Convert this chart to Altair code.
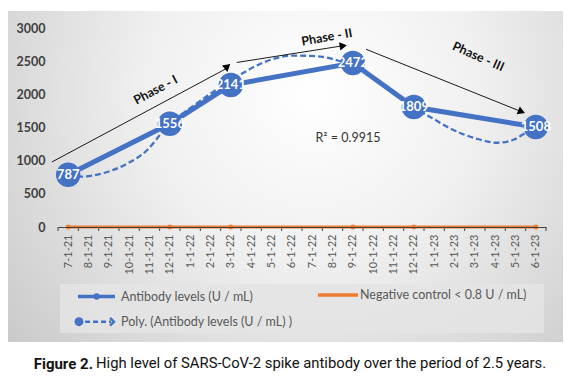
import altair as alt
import pandas as pd

# ---------------- data ----------------
MONTHS = ["7-1-21", "8-1-21", "9-1-21", "10-1-21", "11-1-21", "12-1-21",
          "1-1-22", "2-1-22", "3-1-22", "4-1-22", "5-1-22", "6-1-22",
          "7-1-22", "8-1-22", "9-1-22", "10-1-22", "11-1-22", "12-1-22",
          "1-1-23", "2-1-23", "3-1-23", "4-1-23", "5-1-23", "6-1-23"]
SAMPLE_IDX = [0, 5, 8, 14, 17, 23]
ANTIBODY = [787, 1556, 2141, 2472, 1809, 1508]
NEG_CONTROL = [0.5, 0.5, 0.5, 0.5, 0.5, 0.5]

# polynomial trend line
TREND_M = [0, 0.75, 1.5, 2.8, 3.9, 4.6, 5.0, 6.0, 7.0, 8.0, 8.6, 9.6, 11.1,
           12.4, 13.2, 14.0, 15.0, 16.0, 17.0, 17.8, 18.9, 20.1, 21.1, 21.9,
           22.6, 23.0]
TREND_V = [775, 760, 795, 940, 1165, 1420, 1560, 1790, 2010, 2200, 2320, 2480,
           2585, 2570, 2515, 2440, 2260, 2030, 1800, 1660, 1470, 1330, 1270,
           1315, 1440, 1510]

# phase annotations (data coordinates)
PHASE_LABELS = ["Phase - I", "Phase - II", "Phase - III"]
PHASE_TEXT_M = [4.3, 12.72, 20.17]
PHASE_TEXT_V = [2065, 2860, 2567]
ARROW_M1 = [-0.8, 8.29, 14.65]
ARROW_V1 = [980, 2480, 2679]
ARROW_M2 = [7.8, 13.53, 22.3]
ARROW_V2 = [2392, 2733, 1738]
R2_TEXT = "R² = 0.9915"
R2_M, R2_V = 13.76, 1342

Y_TICKS = [0, 500, 1000, 1500, 2000, 2500, 3000]

# styles
TEXT_ANGLES = [332, 350, 24]
ARROW_ANGLES = [80, 351, 22]
BLUE = "#4472C4"
ORANGE = "#ED7D31"
FONT = "Lato"
W, H = 488, 199

# ---------------- tables ----------------
ab = pd.DataFrame({"m": SAMPLE_IDX, "v": ANTIBODY, "lab": [str(a) for a in ANTIBODY]})
neg = pd.DataFrame({"m": SAMPLE_IDX, "v": NEG_CONTROL})
trend = pd.DataFrame({"m": TREND_M, "v": TREND_V})
arrows = pd.DataFrame({"m": ARROW_M1, "v": ARROW_V1, "m2": ARROW_M2, "v2": ARROW_V2})
heads = pd.DataFrame({"m": ARROW_M2, "v": ARROW_V2, "ang": ARROW_ANGLES})
phases = pd.DataFrame({"m": PHASE_TEXT_M, "v": PHASE_TEXT_V, "t": PHASE_LABELS, "ang": TEXT_ANGLES})
r2 = pd.DataFrame({"m": [R2_M], "v": [R2_V], "t": [R2_TEXT]})
ticks = pd.DataFrame({"m": [i - 0.5 for i in range(len(MONTHS) + 1)]})
one = pd.DataFrame({"a": [0]})

label_expr = "[" + ",".join("'%s'" % s for s in MONTHS) + "][datum.value]"

X = alt.X("m:Q", scale=alt.Scale(domain=[-0.5, len(MONTHS) - 0.5], nice=False, zero=False),
          axis=alt.Axis(title=None, values=list(range(len(MONTHS))), labelExpr=label_expr,
                        labelAngle=270, labelAlign="right", labelBaseline="middle",
                        labelFont=FONT, labelFontSize=11, labelColor="#595959",
                        labelPadding=7, ticks=False, grid=False, domainColor="#404040",
                        domainWidth=1.2, labelOverlap=False, zindex=1))
Y = alt.Y("v:Q", scale=alt.Scale(domain=[0, 3000], nice=False, zero=True),
          axis=alt.Axis(title=None, values=Y_TICKS, format="d", labelFont=FONT,
                        labelFontSize=12.5, labelFontWeight="bold", labelColor="#404040",
                        labelPadding=13, ticks=False, domain=False, grid=False, zindex=1))

# ---------------- background ----------------
bg = alt.Chart(one).mark_rect(
    fill={"gradient": "radial", "x1": 0.55, "y1": 0.35, "r1": 0,
          "x2": 0.55, "y2": 0.35, "r2": 0.75,
          "stops": [{"offset": 0, "color": "#ffffff"},
                    {"offset": 0.4, "color": "#f0f0f0"},
                    {"offset": 1, "color": "#c6c6c6"}]}
).encode(x=alt.value(-50), x2=alt.value(505), y=alt.value(-17), y2=alt.value(314))

legend_box = alt.Chart(one).mark_rect(fill="#e4e4e4", opacity=0.85).encode(
    x=alt.value(2), x2=alt.value(486), y=alt.value(256), y2=alt.value(305))

# ---------------- data layers ----------------
tick_marks = alt.Chart(ticks).mark_rule(color="#404040", strokeWidth=1).encode(
    x=X, y=alt.value(H), y2=alt.value(H + 4))

neg_line = alt.Chart(neg).mark_line(color=ORANGE, strokeWidth=3).encode(x=X, y=Y)
neg_pts = alt.Chart(neg).mark_point(filled=True, color=ORANGE, size=25, opacity=1).encode(x=X, y=Y)

main_line = alt.Chart(ab).mark_line(color=BLUE, strokeWidth=5).encode(x=X, y=Y)
trend_line = alt.Chart(trend).mark_line(color=BLUE, strokeWidth=2.3, strokeDash=[6, 3],
                                         interpolate="monotone").encode(x=X, y=Y)
markers = alt.Chart(ab).mark_point(filled=True, color=BLUE, size=600, opacity=1).encode(x=X, y=Y)
labels = alt.Chart(ab).mark_text(color="white", font=FONT, fontSize=13, fontWeight="bold",
                                 align="center", baseline="middle").encode(x=X, y=Y, text="lab:N")

arrow_lines = alt.Chart(arrows).mark_rule(color="black", strokeWidth=0.9).encode(
    x=X, y=Y, x2="m2:Q", y2="v2:Q")
arrow_heads = alt.Chart(heads).mark_point(shape="triangle-right", filled=True, color="black",
                                          size=70, opacity=1).encode(
    x=X, y=Y, angle=alt.Angle("ang:Q", scale=None))
phase_text = alt.Chart(phases).mark_text(font=FONT, fontSize=12.5, fontWeight="bold",
                                         color="#111111", align="center",
                                         baseline="middle").encode(
    x=X, y=Y, text="t:N", angle=alt.Angle("ang:Q", scale=None))
r2_text = alt.Chart(r2).mark_text(font=FONT, fontSize=12.5, color="#333333", align="center",
                                  baseline="middle").encode(x=X, y=Y, text="t:N")

# ---------------- legend ----------------
LEG_FONT = dict(font=FONT, fontSize=12.5, color="#595959", align="left", baseline="middle")
leg1_line = alt.Chart(one).mark_rule(color=BLUE, strokeWidth=3.5).encode(
    x=alt.value(20), x2=alt.value(57), y=alt.value(268.5))
leg1_dot = alt.Chart(one).mark_point(filled=True, color=BLUE, size=40, opacity=1).encode(
    x=alt.value(38.7), y=alt.value(268.5))
leg1_txt = alt.Chart(one).mark_text(text="Antibody levels (U / mL)", **LEG_FONT).encode(
    x=alt.value(63), y=alt.value(268.5))
leg2_line = alt.Chart(one).mark_rule(color=ORANGE, strokeWidth=3.5).encode(
    x=alt.value(260), x2=alt.value(300), y=alt.value(267))
leg2_txt = alt.Chart(one).mark_text(text="Negative control < 0.8 U / mL)", **LEG_FONT).encode(
    x=alt.value(302), y=alt.value(267))
leg3_dot = alt.Chart(one).mark_point(filled=True, color=BLUE, size=80, opacity=1).encode(
    x=alt.value(21), y=alt.value(293.7))
leg3_line = alt.Chart(one).mark_rule(color=BLUE, strokeWidth=2.5, strokeDash=[5, 3]).encode(
    x=alt.value(27), x2=alt.value(53), y=alt.value(293.7))
leg3_head = alt.Chart(one).mark_point(shape="M-0.5,-1L0.5,0L-0.5,1", filled=False, color=BLUE,
                                      size=60, strokeWidth=2.5, opacity=1).encode(
    x=alt.value(54), y=alt.value(293.7))
leg3_txt = alt.Chart(one).mark_text(text="Poly. (Antibody levels (U / mL) )", **LEG_FONT).encode(
    x=alt.value(63), y=alt.value(293.7))

# ---------------- caption ----------------
CAP_FONT = "Roboto"
cap_bold = alt.Chart(one).mark_text(text="Figure 2.", font=CAP_FONT, fontSize=15,
                                    fontWeight="bold", color="#111111", align="right",
                                    baseline="middle").encode(x=alt.value(35), y=alt.value(336))
cap_rest = alt.Chart(one).mark_text(
    text="High level of SARS-CoV-2 spike antibody over the period of 2.5 years.",
    font=CAP_FONT, fontSize=14.8, color="#111111", align="left", baseline="middle"
).encode(x=alt.value(38), y=alt.value(336))

chart = alt.layer(
    bg, legend_box, tick_marks, neg_line, neg_pts, main_line, trend_line, markers, labels,
    arrow_lines, arrow_heads, phase_text, r2_text,
    leg1_line, leg1_dot, leg1_txt, leg2_line, leg2_txt, leg3_dot, leg3_line, leg3_head, leg3_txt,
    cap_bold, cap_rest
).properties(
    width=W, height=H,
    autosize=alt.AutoSizeParams(type="none"),
    padding={"left": 50, "top": 20, "right": 18, "bottom": 150},
    background="white"
).configure_view(stroke=None)

chart.save("out.html", embed_options={"renderer": "svg", "actions": False})
